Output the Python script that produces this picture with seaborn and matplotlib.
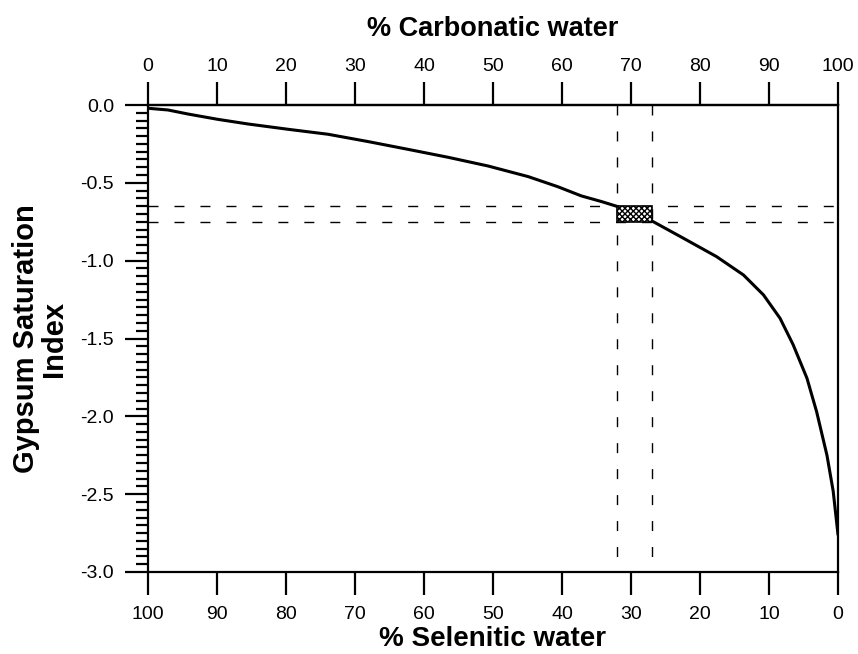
import numpy as np
import pandas as pd
import matplotlib
matplotlib.use("Agg")
import matplotlib.pyplot as plt
from matplotlib.ticker import MultipleLocator, FixedLocator, FuncFormatter
from matplotlib.patches import Rectangle
import seaborn as sns

# Mixing curve: gypsum saturation index vs. share of carbonatic water
carbonatic_pct = [0, 2.9, 5.8, 10.1, 14.5, 20.3, 26.1, 31.9, 37.7, 43.5, 49.3, 55.1,
                  59.4, 62.8, 65.7, 68.1, 73.2, 77.6, 82.4, 86.3, 89.2, 91.6, 93.5,
                  95.5, 96.9, 98.4, 99.3, 100]
gypsum_si = [-0.021, -0.032, -0.058, -0.092, -0.122, -0.156, -0.188, -0.235, -0.285,
             -0.336, -0.392, -0.46, -0.525, -0.584, -0.62, -0.653, -0.749, -0.856,
             -0.974, -1.092, -1.22, -1.37, -1.54, -1.755, -1.97, -2.25, -2.48, -2.76]

# Range of mixing ratios / saturation indices highlighted
mix_range = [68, 73]
si_range = [-0.75, -0.65]

x_ticks = list(range(0, 101, 10))
y_ticks = [0.0, -0.5, -1.0, -1.5, -2.0, -2.5, -3.0]

df = pd.DataFrame({"carbonatic": carbonatic_pct, "si": gypsum_si})

sns.set_style("ticks")
plt.rcParams["font.family"] = ["Liberation Sans", "DejaVu Sans"]
plt.rcParams.update({
    "text.color": "black",
    "axes.labelcolor": "black",
    "axes.edgecolor": "black",
    "xtick.color": "black",
    "ytick.color": "black",
    "hatch.color": "black",
})

fig = plt.figure(figsize=(8.58, 6.54), dpi=100)
ax = fig.add_axes([148 / 858, 82 / 654, 690 / 858, 467 / 654])

sns.lineplot(data=df, x="carbonatic", y="si", ax=ax, color="black", linewidth=2.2)

# dashed guide lines
dash = dict(color="black", linewidth=1.0, dashes=(7.2, 11.5))
for xv in mix_range:
    ax.plot([xv, xv], [0.0, -2.92], **dash)
for yv in si_range:
    ax.plot([0, 100], [yv, yv], **dash)

# hatched box over the intersection
ax.add_patch(Rectangle((mix_range[0], si_range[0]), mix_range[1] - mix_range[0],
                       si_range[1] - si_range[0], facecolor="white",
                       edgecolor="black", hatch="xxxxxx", linewidth=1.2, zorder=3))

ax.set_xlim(0, 100)
ax.set_ylim(-3.0, 0.0)

for s in ax.spines.values():
    s.set_linewidth(1.6)
    s.set_edgecolor("black")
    s.set_visible(True)

ax.xaxis.set_major_locator(FixedLocator(x_ticks))
ax.xaxis.set_major_formatter(FuncFormatter(lambda v, p: f"{100 - v:.0f}"))
ax.yaxis.set_major_locator(FixedLocator(y_ticks))
ax.yaxis.set_minor_locator(MultipleLocator(0.05))
ax.yaxis.set_major_formatter(FuncFormatter(lambda v, p: "0.0" if abs(v) < 1e-9 else f"{v:.1f}"))

ax.tick_params(axis="x", which="major", direction="out", length=16.5, width=1.6,
               labelsize=14, pad=8, bottom=True, top=False, colors="black")
ax.tick_params(axis="y", which="major", direction="out", length=16.5, width=1.6,
               labelsize=14, pad=8, left=True, right=False, colors="black")
ax.tick_params(axis="y", which="minor", direction="out", length=8.5, width=1.6,
               left=True, right=False, colors="black")

top = ax.secondary_xaxis("top")
top.xaxis.set_major_locator(FixedLocator(x_ticks))
top.xaxis.set_major_formatter(FuncFormatter(lambda v, p: f"{v:.0f}"))
top.tick_params(axis="x", direction="out", length=16.5, width=1.6, labelsize=14, pad=5,
                colors="black")
top.spines["top"].set_linewidth(1.6)
top.spines["top"].set_edgecolor("black")
top.set_xlabel("% Carbonatic water", fontsize=19.5, fontweight="bold", labelpad=16,
               color="black")

ax.set_xlabel("% Selenitic water", fontsize=20, fontweight="bold", labelpad=2, color="black")
ax.set_ylabel("Gypsum Saturation\nIndex", fontsize=21, fontweight="bold", labelpad=9,
              linespacing=1.0, color="black")

fig.savefig("out.png", dpi=100)
